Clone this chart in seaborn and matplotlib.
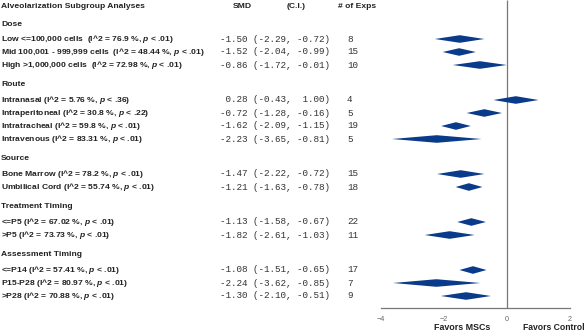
import matplotlib
matplotlib.use("Agg")
import matplotlib.pyplot as plt
import matplotlib.transforms as mtransforms
import seaborn as sns

sns.set_style("white")
plt.rcParams["font.family"] = ["Liberation Sans", "DejaVu Sans"]
plt.rcParams["mathtext.fontset"] = "custom"
plt.rcParams["mathtext.it"] = "Liberation Sans:bold:italic"
plt.rcParams["mathtext.rm"] = "Liberation Sans:bold"

# subgroup data
groups = ["Dose", "Route", "Source", "Treatment Timing", "Assessment Timing"]

labels = [
    ["Low <=100,000 cells  (I^2 = 76.9 %, $p$ < .01)",
     "Mid 100,001 - 999,999 cells  (I^2 = 48.44 %, $p$ < .01)",
     "High >1,000,000 cells  (I^2 = 72.98 %, $p$ < .01)"],
    ["Intranasal (I^2 = 5.76 %, $p$ < .36)",
     "Intraperitoneal (I^2 = 30.8 %, $p$ < .22)",
     "Intratracheal (I^2 = 59.8 %, $p$ < .01)",
     "Intravenous (I^2 = 83.31 %, $p$ < .01)"],
    ["Bone Marrow (I^2 = 78.2 %, $p$ < .01)",
     "Umbilical Cord (I^2 = 55.74 %, $p$ < .01)"],
    ["<=P5 (I^2 = 67.02 %, $p$ < .01)",
     ">P5 (I^2 = 73.73 %, $p$ < .01)"],
    ["<=P14 (I^2 = 57.41 %, $p$ < .01)",
     "P15-P28 (I^2 = 80.97 %, $p$ < .01)",
     ">P28 (I^2 = 70.88 %, $p$ < .01)"],
]

smd = [[-1.50, -1.52, -0.86], [0.28, -0.72, -1.62, -2.23], [-1.47, -1.21],
       [-1.13, -1.82], [-1.08, -2.24, -1.30]]
ci_low = [[-2.29, -2.04, -1.72], [-0.43, -1.28, -2.09, -3.65], [-2.22, -1.63],
          [-1.58, -2.61], [-1.51, -3.62, -2.10]]
ci_high = [[-0.72, -0.99, -0.01], [1.00, -0.16, -1.15, -0.81], [-0.72, -0.78],
           [-0.67, -1.03], [-0.65, -0.85, -0.51]]
n_exps = [[8, 15, 10], [4, 5, 19, 5], [15, 18], [22, 11], [17, 7, 9]]

W, H = 585, 334
fig = plt.figure(figsize=(W / 100, H / 100), dpi=100)
ax = fig.add_axes([0, 0, 1, 1])

# x scale: -4 at 381 px, 2 at 570 px
ppu = (570 - 381) / 6
ax.set_xlim(-4 - 381 / ppu, 2 + (W - 570) / ppu)
ax.set_ylim(H, 0)

tr = mtransforms.blended_transform_factory(ax.transAxes, ax.transData)
txt = "#222222"
navy = "#0a3a8a"
lab_fs = 6.1
head_fs = 6.1
mono_fs = 6.7

ax.text(1 / W, 7, "Alveolarization Subgroup Analyses", transform=tr,
        fontsize=head_fs, fontweight="bold", color=txt, va="center")
ax.text(233 / W, 7, "SMD", transform=tr, fontsize=head_fs,
        fontweight="bold", color=txt, va="center")
ax.text(287 / W, 7, "(C.I.)", transform=tr, fontsize=head_fs,
        fontweight="bold", color=txt, va="center")
ax.text(338 / W, 7, "# of Exps", transform=tr, fontsize=head_fs,
        fontweight="bold", color=txt, va="center")

y = 24
for gi, g in enumerate(groups):
    if gi > 0:
        y += 20
    ax.text(1 / W, y, g, transform=tr, fontsize=lab_fs, fontweight="bold",
            color=txt, va="center")
    y += 15
    for k in range(len(labels[gi])):
        if k > 0:
            y += 13
        ax.text(1 / W, y, labels[gi][k], transform=tr, fontsize=lab_fs,
                fontweight="bold", color=txt, va="center")
        s = f"{smd[gi][k]:5.2f} ({ci_low[gi][k]:5.2f}, {ci_high[gi][k]:5.2f})"
        ax.text(220 / W, y, s, transform=tr, fontsize=mono_fs,
                family="Liberation Mono", color="#333333", va="center")
        ax.text(347 / W, y, str(n_exps[gi][k]), transform=tr,
                fontsize=mono_fs, family="Liberation Mono", color="#333333",
                va="center")
        h = 3.8
        ax.fill([ci_low[gi][k], smd[gi][k], ci_high[gi][k], smd[gi][k]],
                [y, y - h, y, y + h], color=navy, lw=0, zorder=3)

# reference line and axis
ax.vlines(0, 0, 308, color="#777777", lw=0.9, zorder=2)
sns.despine(ax=ax, left=True, top=True, right=True)
ax.spines["bottom"].set_position(("data", 308))
ax.spines["bottom"].set_bounds(-4, 2)
ax.spines["bottom"].set_color("#777777")
ax.spines["bottom"].set_linewidth(0.9)
ax.set_xticks([-4, -2, 0, 2])
ax.tick_params(axis="x", direction="out", length=3.5, width=0.8,
               color="#777777", labelsize=5.2, labelcolor="#666666", pad=2)
ax.set_yticks([])
ax.patch.set_alpha(0)

ax.text(-1.43, 328, "Favors MSCs", ha="center", va="center",
        fontsize=6.4, fontweight="bold", color=txt)
ax.text(2.47, 328, "Favors Control", ha="right", va="center",
        fontsize=6.2, fontweight="bold", color=txt)

fig.savefig("out.png", dpi=100)
